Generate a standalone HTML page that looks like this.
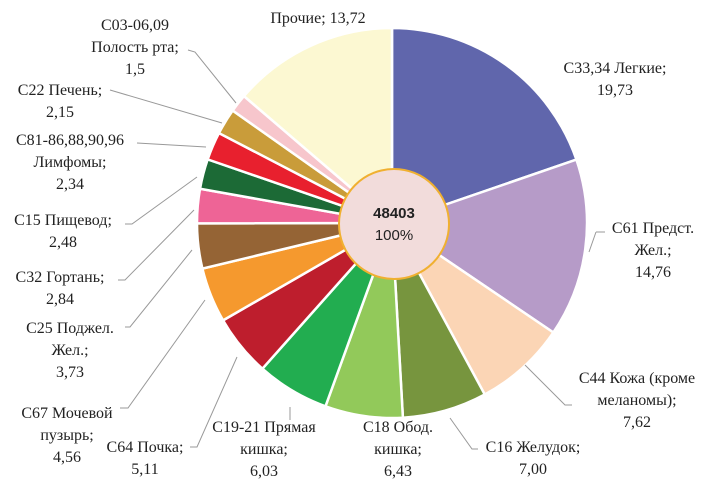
<!DOCTYPE html>
<html><head><meta charset="utf-8"><style>
html,body{margin:0;padding:0;background:#fff;}
svg{display:block;}
svg text{font-family:"Liberation Serif","Noto Serif CJK SC","DejaVu Serif",serif;font-size:16px;fill:#222;}
</style></head><body>
<svg id="chart" width="709" height="489" viewBox="0 0 709 489" xmlns="http://www.w3.org/2000/svg">
<g id="slices"></g>
<g id="leaders" stroke="#999" stroke-width="1" fill="none"></g>
<g id="labels" text-anchor="middle"></g>
<circle cx="394" cy="224" r="55" fill="#f2dcdb" stroke="#f0b030" stroke-width="2"/>
<text x="394" y="218" text-anchor="middle" style="font-family:'Liberation Sans',sans-serif;font-weight:bold;font-size:15px;">48403</text>
<text x="394" y="240" text-anchor="middle" style="font-family:'Liberation Sans',sans-serif;font-size:15px;">100%</text>
</svg>
<script>
const categories = ["С33,34 Легкие","С61 Предст. Жел.","С44 Кожа (кроме меланомы)","С16 Желудок","С18 Обод. кишка","С19-21 Прямая кишка","С64 Почка","С67 Мочевой пузырь","С25 Поджел. Жел.","С32 Гортань","С15 Пищевод","С81-86,88,90,96 Лимфомы","С22 Печень","С03-06,09 Полость рта","Прочие"];
const values = [19.73,14.76,7.62,7.00,6.43,6.03,5.11,4.56,3.73,2.84,2.48,2.34,2.15,1.5,13.72];
const valueLabels = ["19,73","14,76","7,62","7,00","6,43","6,03","5,11","4,56","3,73","2,84","2,48","2,34","2,15","1,5","13,72"];
const colors = ["#6066ac","#b69bc8","#fbd5b5","#77953e","#92c95a","#22ad50","#be1e2d","#f5992e","#956435","#ee6496","#1c6a36","#e8202e","#c99c3a","#f7c6cc","#fcf8d2"];

const NS="http://www.w3.org/2000/svg";
const cx=392, cy=223, R=195;
const total=values.reduce((a,b)=>a+b,0);
function angleScale(v){return v/total*2*Math.PI;}
function pt(a,r){return [cx+r*Math.sin(a), cy-r*Math.cos(a)];}
const gs=document.getElementById('slices');
let a0=0;
values.forEach((v,i)=>{
  const a1=a0+angleScale(v);
  const p0=pt(a0,R), p1=pt(a1,R);
  const large=(a1-a0)>Math.PI?1:0;
  const p=document.createElementNS(NS,'path');
  p.setAttribute('d',`M${cx},${cy} L${p0[0]},${p0[1]} A${R},${R} 0 ${large} 1 ${p1[0]},${p1[1]} Z`);
  p.setAttribute('fill',colors[i]);
  p.setAttribute('stroke','#fff');
  p.setAttribute('stroke-width','2.5');
  
  
  gs.appendChild(p);
  a0=a1;
});

const labelLayout = [
  [615,73,["С33,34 Легкие;"]],
  [653,233,["С61 Предст.","Жел.;"]],
  [637,383,["С44 Кожа (кроме","меланомы);"]],
  [533,452,["С16 Желудок;"]],
  [398,432,["С18 Обод.","кишка;"]],
  [264,432,["С19-21 Прямая","кишка;"]],
  [145,452,["С64 Почка;"]],
  [67,418,["С67 Мочевой","пузырь;"]],
  [70,333,["С25 Поджел.","Жел.;"]],
  [60,282,["С32 Гортань;"]],
  [63,225,["С15 Пищевод;"]],
  [70,145,["С81-86,88,90,96","Лимфомы;"]],
  [60,95,["С22 Печень;"]],
  [135,30,["С03-06,09","Полость рта;"]],
  [318,23,[]]
];
const gl=document.getElementById('labels');
labelLayout.forEach((L,i)=>{
  const t=document.createElementNS(NS,'text');
  
  
  if(i===14){
    t.setAttribute('x',L[0]);t.setAttribute('y',L[1]);
    t.textContent='Прочие; '+valueLabels[i];
  } else {
    const lines=L[2].concat([valueLabels[i]]);
    lines.forEach((s,k)=>{
      const ts=document.createElementNS(NS,'tspan');
      ts.setAttribute('x',L[0]);ts.setAttribute('y',L[1]+k*22);
      ts.textContent=s;t.appendChild(ts);
    });
  }
  gl.appendChild(t);
});

const leaderPaths=[
  "M596,232 L605,232 M596,232 L589,252",
  "M525,365 L565,405 L572,405",
  "M450,418 L472,449 L478,449",
  "M290,407 L290,420",
  "M190,447 L197,447 L237,357",
  "M120,408 L128,408 L205,300",
  "M125,327 L130,327 L192,250",
  "M118,280 L125,280 L194,210",
  "M125,224 L132,224 L197,177",
  "M137,143 L206,147",
  "M110,90 L222,123",
  "M188,50 L195,52 L236,103"
];
const gld=document.getElementById('leaders');
leaderPaths.forEach((d,i)=>{
  const p=document.createElementNS(NS,'path');
  p.setAttribute('d',d);
  
  
  gld.appendChild(p);
});
</script>
</body></html>
